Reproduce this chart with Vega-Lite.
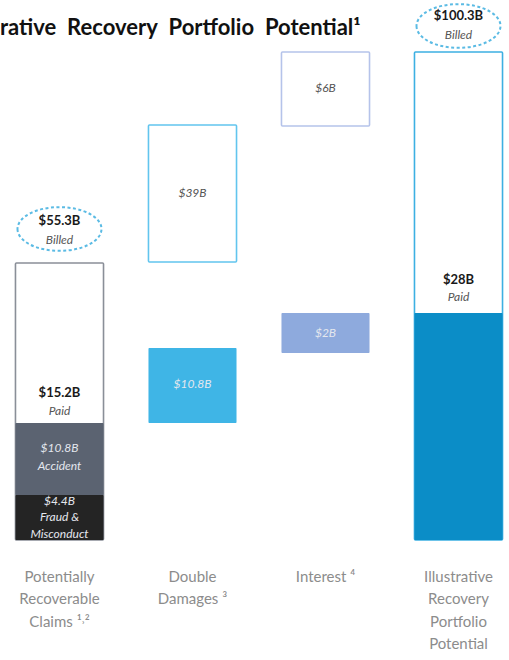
{
  "$schema": "https://vega.github.io/schema/vega-lite/v6.json",
  "autosize": "none",
  "width": 509,
  "height": 500,
  "padding": {"left": 0, "right": 0, "top": 40, "bottom": 120},
  "background": "white",
  "config": {"view": {"stroke": null}, "font": "Lato"},
  "title": {
    "text": "rative\u2005 Recovery\u2005 Portfolio\u2005 Potential¹",
    "anchor": "start",
    "frame": "group",
    "orient": "top",
    "offset": -40,
    "fontSize": 22,
    "font": "Lato",
    "fontWeight": "bold",
    "color": "#111111"
  },
  "datasets": {
    "boxes": [
      {"cat": "Potentially|Recoverable|Claims ¹˒²", "part": "claims", "lo": 0, "hi": 55.4},
      {"cat": "Double|Damages ³", "part": "double", "lo": 55.6, "hi": 83},
      {"cat": "Interest ⁴", "part": "interest", "lo": 82.8, "hi": 97.6},
      {"cat": "Illustrative|Recovery|Portfolio|Potential", "part": "total", "lo": 0, "hi": 97.6}
    ],
    "fills": [
      {"cat": "Potentially|Recoverable|Claims ¹˒²", "part": "fraud", "lo": 0, "hi": 9},
      {"cat": "Potentially|Recoverable|Claims ¹˒²", "part": "accident", "lo": 9, "hi": 23.4},
      {"cat": "Double|Damages ³", "part": "double", "lo": 23.4, "hi": 38.4},
      {"cat": "Interest ⁴", "part": "interest", "lo": 37.4, "hi": 45.4},
      {"cat": "Illustrative|Recovery|Portfolio|Potential", "part": "total", "lo": 0, "hi": 45.4}
    ],
    "billed": [
      {"cat": "Potentially|Recoverable|Claims ¹˒²", "v": 62.2},
      {"cat": "Illustrative|Recovery|Portfolio|Potential", "v": 102.8}
    ],
    "labels": [
      {"cat": "Potentially|Recoverable|Claims ¹˒²", "kind": "bold", "v": 63.8, "t": "$55.3B"},
      {"cat": "Potentially|Recoverable|Claims ¹˒²", "kind": "bold", "v": 29.4, "t": "$15.2B"},
      {"cat": "Illustrative|Recovery|Portfolio|Potential", "kind": "bold", "v": 52, "t": "$28B"},
      {"cat": "Illustrative|Recovery|Portfolio|Potential", "kind": "bold", "v": 104.8, "t": "$100.3B"},
      {"cat": "Potentially|Recoverable|Claims ¹˒²", "kind": "note", "v": 60, "t": "Billed"},
      {"cat": "Potentially|Recoverable|Claims ¹˒²", "kind": "note", "v": 25.8, "t": "Paid"},
      {"cat": "Double|Damages ³", "kind": "note", "v": 69.4, "t": "$39B"},
      {"cat": "Interest ⁴", "kind": "note", "v": 90.4, "t": "$6B"},
      {"cat": "Illustrative|Recovery|Portfolio|Potential", "kind": "note", "v": 48.6, "t": "Paid"},
      {"cat": "Illustrative|Recovery|Portfolio|Potential", "kind": "note", "v": 101, "t": "Billed"},
      {"cat": "Potentially|Recoverable|Claims ¹˒²", "kind": "light", "v": 18.4, "t": "$10.8B"},
      {"cat": "Potentially|Recoverable|Claims ¹˒²", "kind": "light", "v": 14.8, "t": "Accident"},
      {"cat": "Potentially|Recoverable|Claims ¹˒²", "kind": "light", "v": 7.8, "t": "$4.4B"},
      {"cat": "Potentially|Recoverable|Claims ¹˒²", "kind": "light", "v": 4.6, "t": "Fraud &"},
      {"cat": "Potentially|Recoverable|Claims ¹˒²", "kind": "light", "v": 1.2, "t": "Misconduct"},
      {"cat": "Double|Damages ³", "kind": "light", "v": 31.2, "t": "$10.8B"},
      {"cat": "Interest ⁴", "kind": "light", "v": 41.4, "t": "$2B"}
    ]
  },
  "encoding": {
    "x": {
      "field": "cat",
      "type": "nominal",
      "sort": null,
      "scale": {
        "domain": ["Potentially|Recoverable|Claims ¹˒²", "Double|Damages ³", "Interest ⁴", "Illustrative|Recovery|Portfolio|Potential"],
        "paddingInner": 0.338,
        "paddingOuter": 0.0825,
        "align": 0.705
      },
      "axis": {
        "title": null,
        "labelAngle": 0,
        "domain": false,
        "ticks": false,
        "labelExpr": "split(datum.label, '|')",
        "labelFont": "Lato",
        "labelFontSize": 15,
        "labelColor": "#8c8c8c",
        "labelLineHeight": 22.5,
        "labelPadding": 29,
        "labelBaseline": "top",
        "labelLimit": 0
      }
    }
  },
  "layer": [
    {
      "mark": {"type": "rule", "color": "#bfe3f5", "strokeWidth": 1.5},
      "encoding": {"y": {"datum": 107.8, "type": "quantitative", "scale": {"domain": [0, 100]}, "axis": null}, "x": null}
    },
    {
      "data": {"name": "boxes"},
      "mark": {"type": "bar", "fill": "white", "strokeWidth": 1.6, "cornerRadius": 1},
      "encoding": {
        "y": {"field": "lo", "type": "quantitative", "scale": {"domain": [0, 100]}, "axis": null},
        "y2": {"field": "hi"},
        "stroke": {
          "field": "part",
          "type": "nominal",
          "scale": {"domain": ["claims", "double", "interest", "total"], "range": ["#8a8f98", "#62c5ee", "#b5c3ea", "#3db0e2"]},
          "legend": null
        }
      }
    },
    {
      "data": {"name": "fills"},
      "mark": {"type": "bar", "cornerRadius": 1},
      "encoding": {
        "y": {"field": "lo", "type": "quantitative"},
        "y2": {"field": "hi"},
        "fill": {
          "field": "part",
          "type": "nominal",
          "scale": {"domain": ["fraud", "accident", "double", "interest", "total"], "range": ["#242424", "#5b6371", "#3fb5e6", "#8eaadd", "#0b8dc7"]},
          "legend": null
        }
      }
    },
    {
      "data": {"name": "billed"},
      "mark": {
        "type": "point",
        "shape": "M -1 0 A 1 0.52 0 1 0 1 0 A 1 0.52 0 1 0 -1 0",
        "size": 7056,
        "filled": false,
        "stroke": "#5bbbe4",
        "strokeWidth": 2,
        "strokeDash": [3, 2.5],
        "opacity": 1
      },
      "encoding": {"y": {"field": "v", "type": "quantitative"}}
    },
    {
      "data": {"name": "labels"},
      "transform": [{"filter": "datum.kind == 'bold'"}],
      "mark": {"type": "text", "font": "Lato", "fontSize": 13, "fontWeight": "bold", "color": "#1a1a1a", "baseline": "middle"},
      "encoding": {"y": {"field": "v", "type": "quantitative"}, "text": {"field": "t"}}
    },
    {
      "data": {"name": "labels"},
      "transform": [{"filter": "datum.kind == 'note'"}],
      "mark": {"type": "text", "font": "Lato", "fontSize": 12, "fontStyle": "italic", "color": "#555555", "baseline": "middle"},
      "encoding": {"y": {"field": "v", "type": "quantitative"}, "text": {"field": "t"}}
    },
    {
      "data": {"name": "labels"},
      "transform": [{"filter": "datum.kind == 'light'"}],
      "mark": {"type": "text", "font": "Lato", "fontSize": 12, "fontStyle": "italic", "color": "#e4e7ee", "baseline": "middle"},
      "encoding": {"y": {"field": "v", "type": "quantitative"}, "text": {"field": "t"}}
    }
  ]
}
